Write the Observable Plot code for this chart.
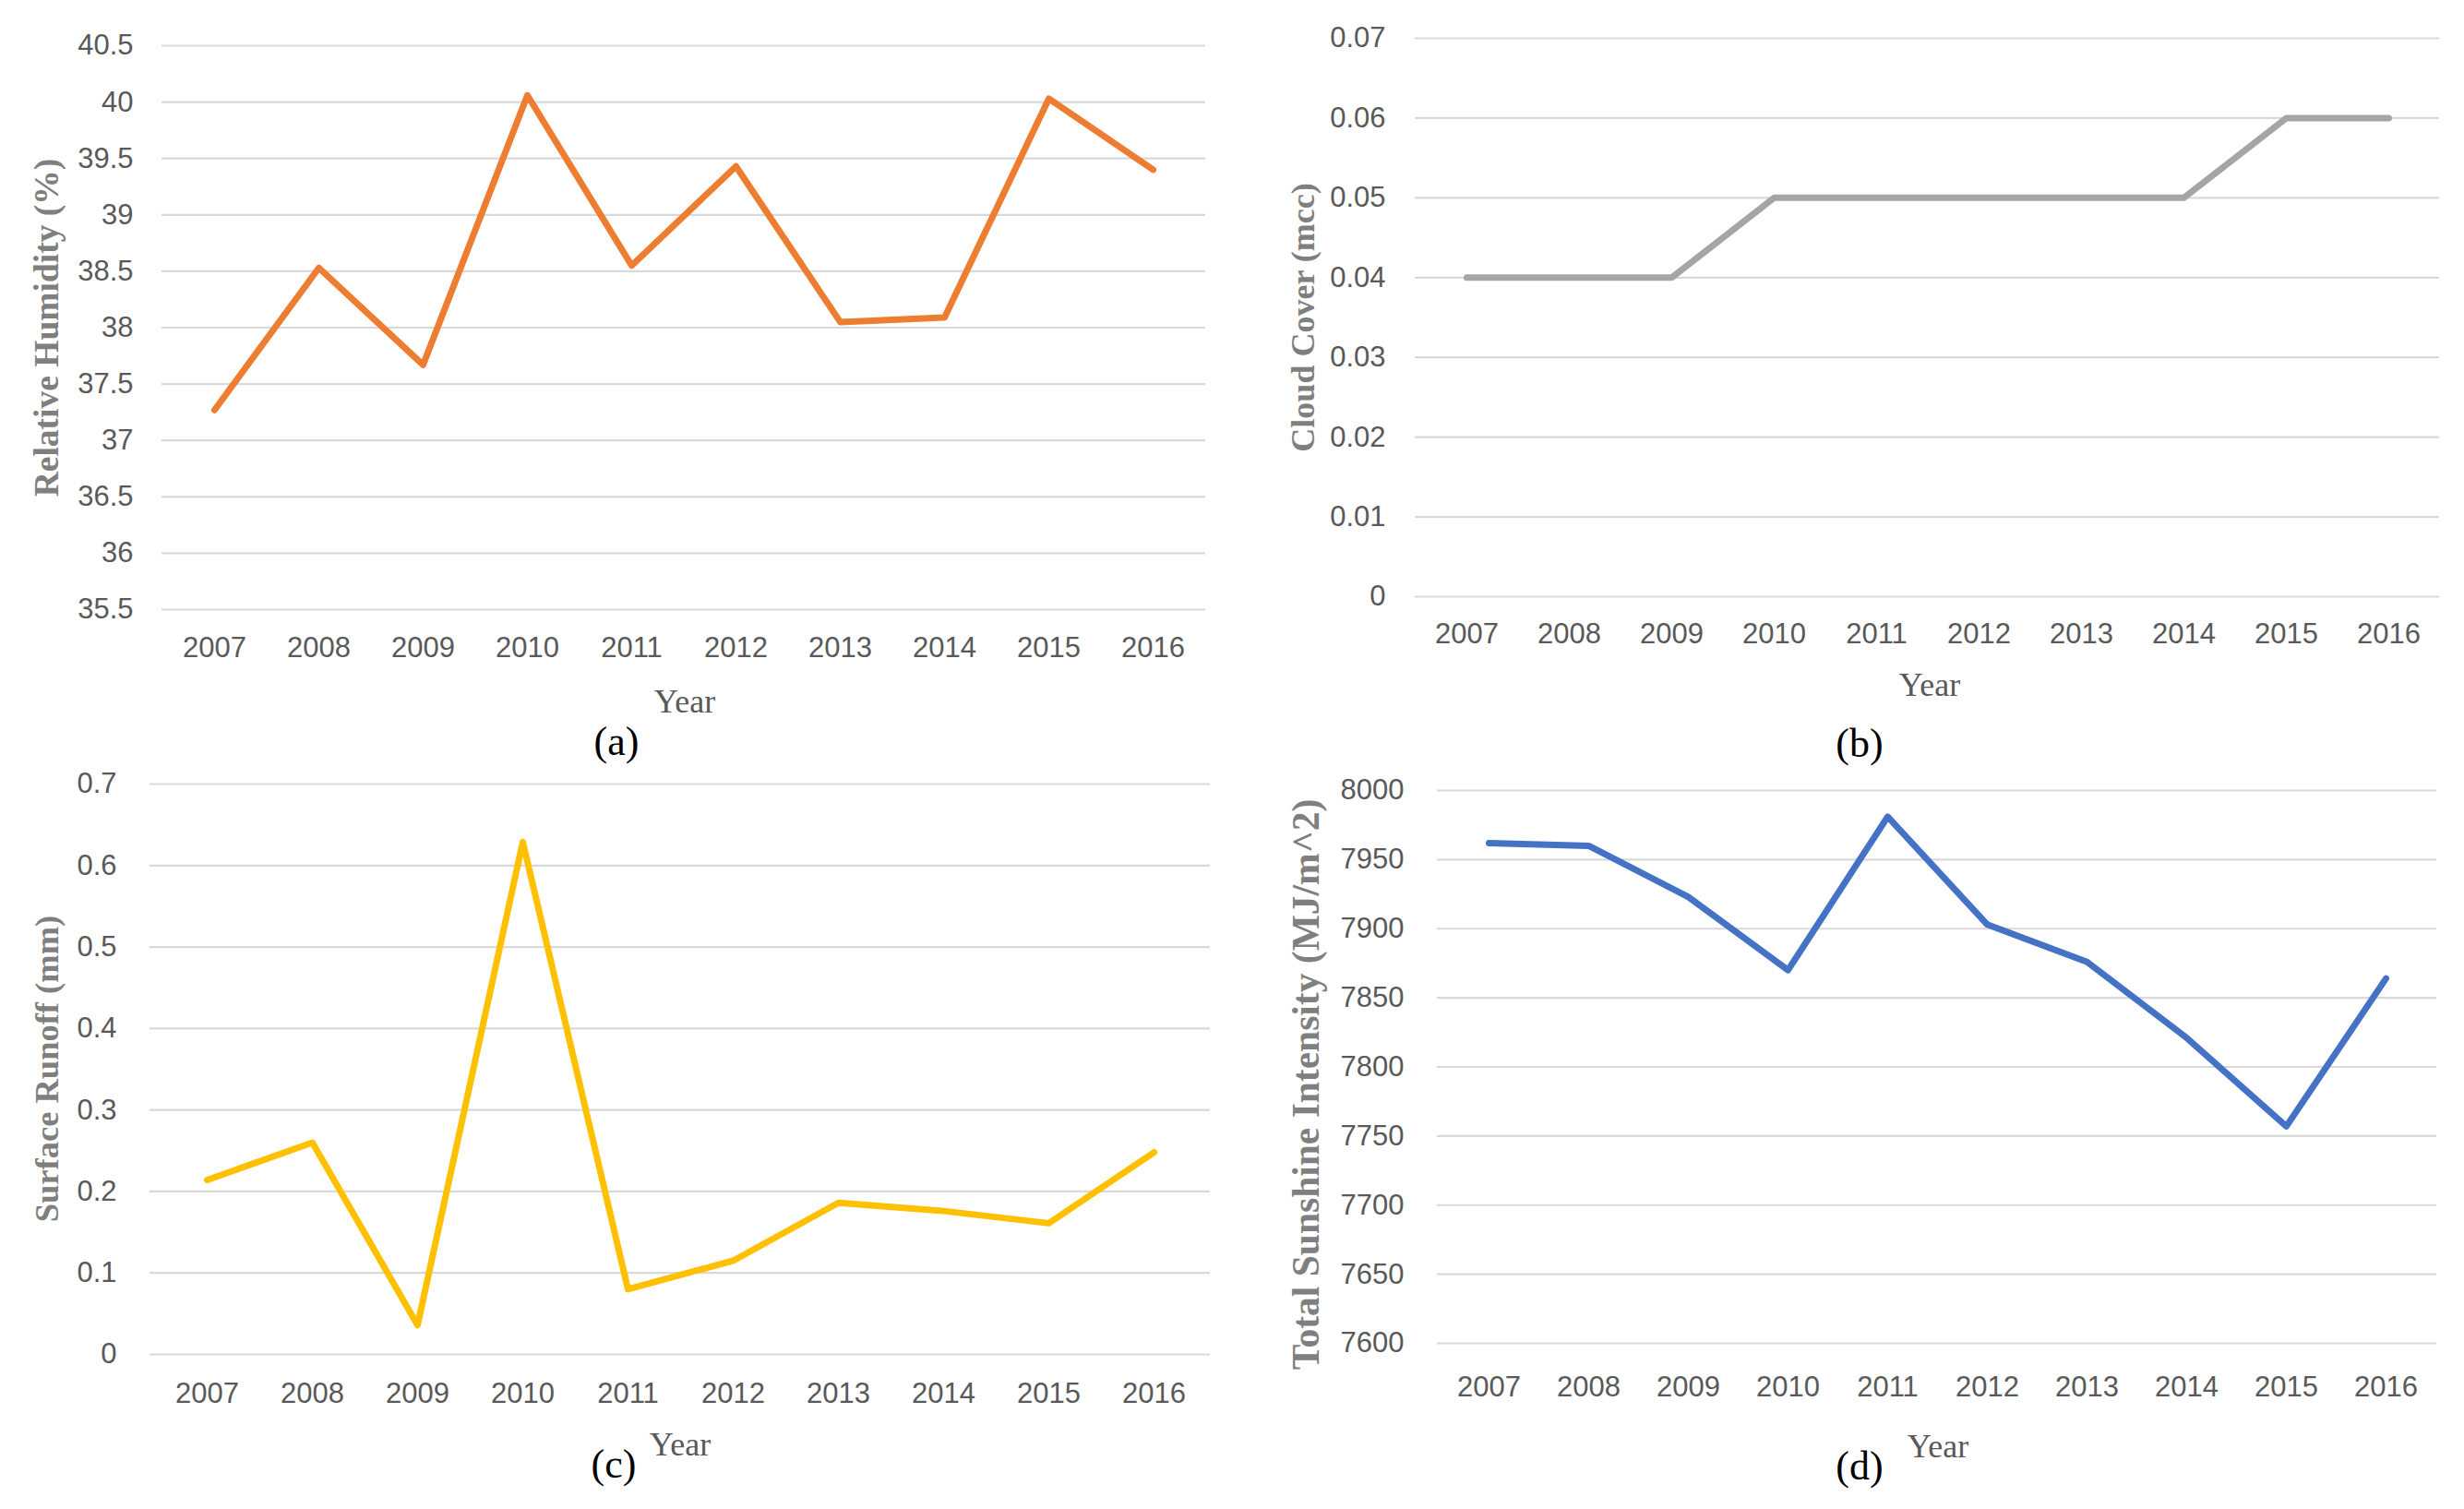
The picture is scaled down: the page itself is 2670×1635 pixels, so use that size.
<!DOCTYPE html>
<html><head><meta charset="utf-8">
<script src="https://cdn.jsdelivr.net/npm/d3@7"></script>
<script src="https://cdn.jsdelivr.net/npm/@observablehq/plot@0.6"></script>
<style>
body{margin:0;background:#fff;}
#root{position:relative;width:2670px;height:1635px;overflow:hidden;background:#fff;}
.panel{position:absolute;}
.lbl{position:absolute;white-space:nowrap;transform:translate(-50%,-50%);line-height:1;}
.ylab{font-family:"Liberation Serif","Times New Roman",serif;font-weight:bold;color:#7f7f7f;transform:translate(-50%,-50%) rotate(-90deg);}
.xlab{font:36px "Liberation Serif","Times New Roman",serif;color:#595959;}
.cap{font:44px "Liberation Serif","Times New Roman",serif;color:#000;}
</style></head><body><div id="root"></div>
<script>
const years = ["2007","2008","2009","2010","2011","2012","2013","2014","2015","2016"];
const humidity = [37.27, 38.53, 37.67, 40.06, 38.55, 39.43, 38.05, 38.09, 40.03, 39.40];
const cloudCover = [0.04, 0.04, 0.04, 0.05, 0.05, 0.05, 0.05, 0.05, 0.06, 0.06];
const runoff = [0.214, 0.260, 0.036, 0.629, 0.080, 0.115, 0.186, 0.176, 0.161, 0.248];
const sunshine = [7962, 7960, 7923, 7870, 7981, 7903, 7876, 7821, 7757, 7864];

const humidityTicks = [35.5, 36, 36.5, 37, 37.5, 38, 38.5, 39, 39.5, 40, 40.5];
const cloudTicks = [0, 0.01, 0.02, 0.03, 0.04, 0.05, 0.06, 0.07];
const runoffTicks = [0, 0.1, 0.2, 0.3, 0.4, 0.5, 0.6, 0.7];
const sunshineTicks = [7600, 7650, 7700, 7750, 7800, 7850, 7900, 7950, 8000];

const panels = [
  {values: humidity, ticks: humidityTicks, color: "#ED7D31", ylabel: "Relative Humidity (%)", cap: "(a)", ylabSize: 37.5,
   left: 0, top: 0, width: 1335, height: 740, mL: 175, mR: 29, mT: 49, mB: 80, padY: 31, padX: 29,
   ylabPos: [51, 355], xlabPos: [742, 760], capPos: [668, 803]},
  {values: cloudCover, ticks: cloudTicks, color: "#A5A5A5", ylabel: "Cloud Cover (mcc)", cap: "(b)", ylabSize: 36,
   left: 1335, top: 0, width: 1335, height: 740, mL: 198, mR: 27, mT: 41, mB: 94, padY: 32, padX: 28,
   ylabPos: [1412, 344], xlabPos: [2091, 742], capPos: [2015, 805]},
  {values: runoff, ticks: runoffTicks, color: "#FFC000", ylabel: "Surface Runoff (mm)", cap: "(c)", ylabSize: 36.5,
   left: 0, top: 800, width: 1335, height: 835, mL: 162, mR: 24, mT: 49, mB: 168, padY: 36, padX: 30,
   ylabPos: [51, 1158], xlabPos: [737, 1565], capPos: [665, 1586]},
  {values: sunshine, ticks: sunshineTicks, color: "#4472C4", ylabel: "Total Sunshine Intensity (MJ/m^2)", cap: "(d)", ylabSize: 41.5,
   left: 1335, top: 800, width: 1335, height: 835, mL: 222, mR: 30, mT: 56, mB: 180, padY: 36, padX: 35,
   ylabPos: [1416, 1175], xlabPos: [2100, 1567], capPos: [2015, 1588]}
];

const root = document.getElementById("root");
for (const p of panels) {
  const data = years.map((yr, i) => ({year: yr, v: p.values[i]}));
  const chart = Plot.plot({
    width: p.width, height: p.height,
    marginLeft: p.mL, marginRight: p.mR, marginTop: p.mT, marginBottom: p.mB,
    style: {background: "transparent", color: "#595959", fontFamily: '"Liberation Sans Narrow","Liberation Sans",sans-serif', fontSize: "31px", overflow: "visible"},
    x: {type: "point", domain: years, padding: 0.5, axis: null},
    y: {domain: [p.ticks[0], p.ticks[p.ticks.length - 1]], axis: null},
    marks: [
      Plot.ruleY(p.ticks, {stroke: "#d9d9d9", strokeWidth: 2.2}),
      Plot.axisY(p.ticks, {tickSize: 0, tickPadding: p.padY, tickFormat: d => String(d), label: null, fontSize: 31}),
      Plot.axisX({tickSize: 0, tickPadding: p.padX, label: null, fontSize: 31}),
      Plot.line(data, {x: "year", y: "v", stroke: p.color, strokeWidth: 7, strokeLinejoin: "round", strokeLinecap: "round"})
    ]
  });
  chart.classList.add("panel");
  chart.style.left = p.left + "px";
  chart.style.top = p.top + "px";
  chart.style.maxWidth = "none";
  root.appendChild(chart);

  const yl = document.createElement("div");
  yl.className = "lbl ylab"; yl.textContent = p.ylabel;
  yl.style.fontSize = p.ylabSize + "px";
  yl.style.left = p.ylabPos[0] + "px"; yl.style.top = p.ylabPos[1] + "px";
  root.appendChild(yl);
  const xl = document.createElement("div");
  xl.className = "lbl xlab"; xl.textContent = "Year";
  xl.style.left = p.xlabPos[0] + "px"; xl.style.top = p.xlabPos[1] + "px";
  root.appendChild(xl);
  const cp = document.createElement("div");
  cp.className = "lbl cap"; cp.textContent = p.cap;
  cp.style.left = p.capPos[0] + "px"; cp.style.top = p.capPos[1] + "px";
  root.appendChild(cp);
}
</script></body></html>
